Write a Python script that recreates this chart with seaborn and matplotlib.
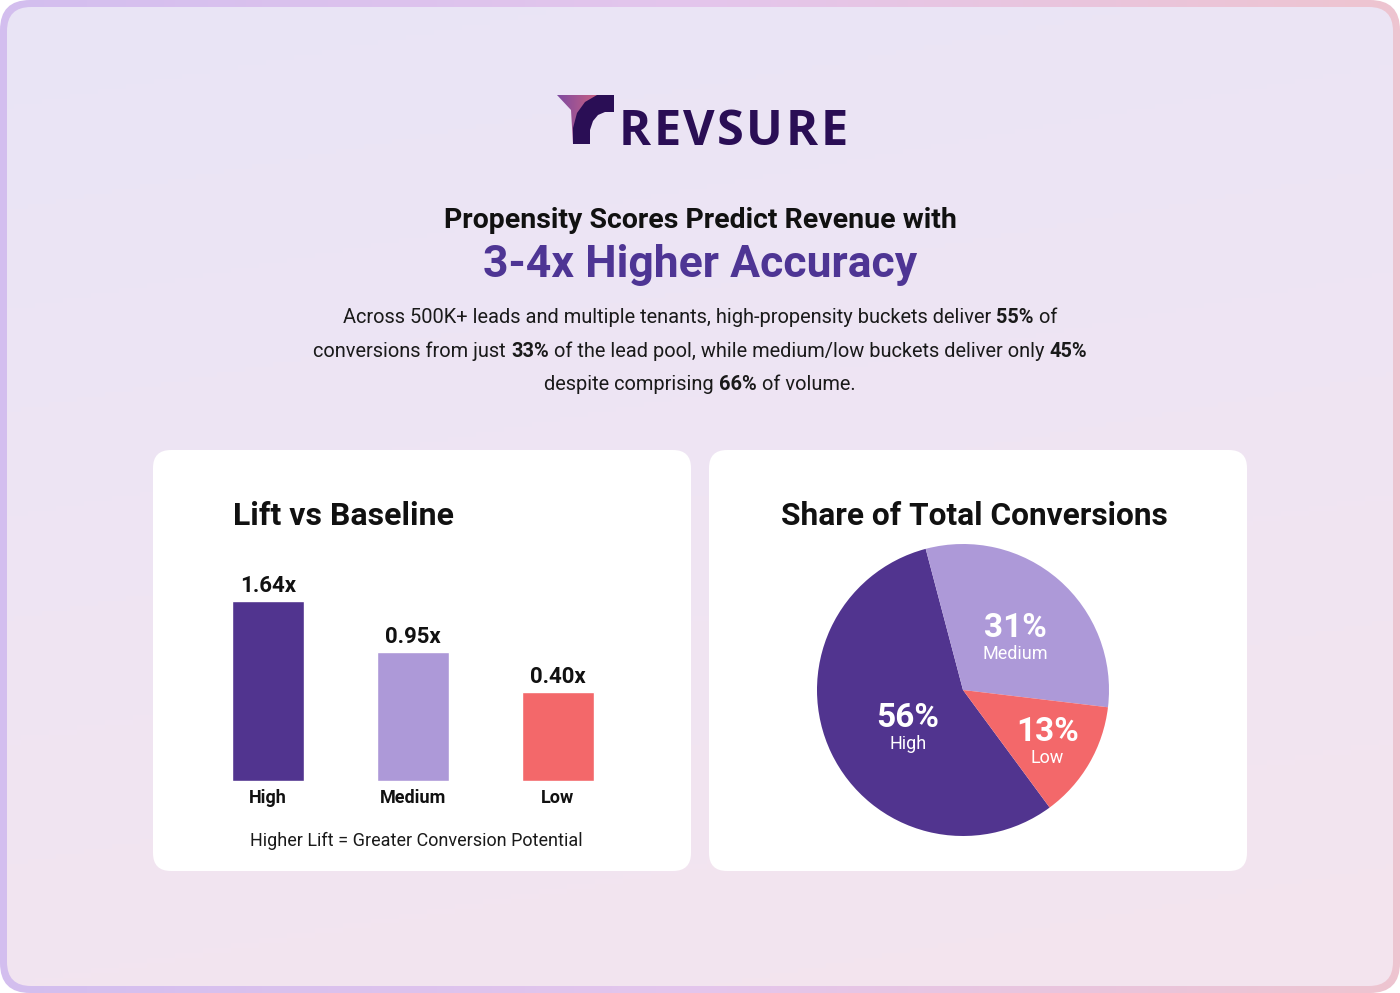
import numpy as np
import pandas as pd
import seaborn as sns
import matplotlib.pyplot as plt
from matplotlib.patches import FancyBboxPatch, Polygon
from matplotlib.colors import LinearSegmentedColormap

# Data
buckets = ["High", "Medium", "Low"]
lift = [1.64, 0.95, 0.40]
conv_share = [56, 31, 13]
bucket_colors = ["#51348F", "#AD99D8", "#F3686A"]

brand = "REVSURE"
headline = "Propensity Scores Predict Revenue with"
headline_accent = "3-4x Higher Accuracy"
body_lines = [
    [("Across 500K+ leads and multiple tenants, high-propensity buckets deliver ", False), ("55%", True), (" of", False)],
    [("conversions from just ", False), ("33%", True), (" of the lead pool, while medium/low buckets deliver only ", False), ("45%", True)],
    [("despite comprising ", False), ("66%", True), (" of volume.", False)],
]
bar_title = "Lift vs Baseline"
bar_note = "Higher Lift = Greater Conversion Potential"
pie_title = "Share of Total Conversions"

W, H = 1400, 993
sns.set_theme(style="white")
plt.rcParams["font.family"] = ["Roboto", "DejaVu Sans"]

fig = plt.figure(figsize=(14, 9.93), dpi=100, facecolor="white")

# background axes in pixel units (y down)
bg = fig.add_axes([0, 0, 1, 1])
bg.axis("off")


def rounded(x0, y0, x1, y1, r, **kw):
    p = FancyBboxPatch((x0, y0), x1 - x0, y1 - y0,
                       boxstyle=f"round,pad=0,rounding_size={r}", **kw)
    bg.add_patch(p)
    return p


# gradient border
border = rounded(0, 0, W, H, 30, facecolor="none", edgecolor="none")
cm_border = LinearSegmentedColormap.from_list("border", ["#D3BEEF", "#E4C6EC", "#EEC4D0"])
im = bg.imshow(np.linspace(0, 1, 256)[None, :], cmap=cm_border,
               extent=(0, W, H, 0), aspect="auto")
im.set_clip_path(border)

# soft inner background
inner = rounded(7, 7, W - 7, H - 7, 24, facecolor="none", edgecolor="none")
cm_bg = LinearSegmentedColormap.from_list("bg", ["#E9E5F6", "#EFE4F3", "#F4E5EE"])
yy, xx = np.mgrid[0:1:200j, 0:1:200j]
im2 = bg.imshow(0.8 * yy + 0.2 * xx, cmap=cm_bg, extent=(0, W, H, 0), aspect="auto")
im2.set_clip_path(inner)

# cards
rounded(153, 450, 691, 871, 18, facecolor="white", edgecolor="none")
rounded(709, 450, 1247, 871, 18, facecolor="white", edgecolor="none")

# logo mark
tri = Polygon([(557, 95), (603, 95), (576, 122), (573, 144), (571, 110)],
              closed=True, facecolor="none", edgecolor="none")
bg.add_patch(tri)
cm_logo = LinearSegmentedColormap.from_list("logo", ["#7E4AA0", "#D2637F"])
im3 = bg.imshow(np.linspace(0, 1, 64)[None, :], cmap=cm_logo,
                extent=(557, 603, 144, 95), aspect="auto")
im3.set_clip_path(tri)
stem = Polygon([(597, 95), (614, 95), (614, 112), (605, 112), (598, 115), (593, 121),
                (590, 130), (590, 144), (573, 144), (573, 128), (577, 113),
                (585, 102)], closed=True, facecolor="#2A0E55", edgecolor="none")
bg.add_patch(stem)
bg.set_xlim(0, W)
bg.set_ylim(H, 0)

renderer = fig.canvas.get_renderer()

# brand word with a little letter spacing
letters = [bg.text(0, 145, ch, ha="left", va="baseline", fontsize=35, weight="bold",
                   color="#2A0E55", family=["Open Sans", "DejaVu Sans"]) for ch in brand]
lw = [t.get_window_extent(renderer).width for t in letters]
track = 2.5
x = 733 - (sum(lw) + track * (len(lw) - 1)) / 2
for t, w in zip(letters, lw):
    t.set_x(x)
    x += w + track

# headline
bg.text(700, 228, headline, ha="center", va="baseline", fontsize=20.5,
        weight="bold", color="#111111")
bg.text(700, 277, headline_accent, ha="center", va="baseline", fontsize=32,
        weight="bold", color="#4E3594")

# body with bold numbers
for line, base in zip(body_lines, [323, 357, 390]):
    parts = [bg.text(0, base, s, fontsize=14.4, va="baseline", color="#1A1A1A",
                     weight="bold" if b else "normal") for s, b in line]
    widths = [t.get_window_extent(renderer).width for t in parts]
    x = W / 2 - sum(widths) / 2
    for t, w in zip(parts, widths):
        t.set_x(x)
        x += w

# card titles and note
bg.text(233, 525, bar_title, ha="left", va="baseline", fontsize=23,
        weight="bold", color="#111111")
bg.text(974, 525, pie_title, ha="center", va="baseline", fontsize=22.8,
        weight="bold", color="#111111")
bg.text(416, 846, bar_note, ha="center", va="baseline", fontsize=13, color="#1A1A1A")

# bar chart
bar_ax = fig.add_axes([195.5 / W, 1 - 781 / H, 435 / W, 221 / H])
df_lift = pd.DataFrame({"bucket": buckets, "lift": lift})
sns.barplot(data=df_lift, x="bucket", y="lift", hue="bucket", palette=bucket_colors,
            width=0.5, saturation=1, legend=False, ax=bar_ax)
# bars keep a visible floor, like the original layout
floor = 0.8
bar_ax.set_yscale("function", functions=(
    lambda y: np.where(y > 0, y + floor, y),
    lambda y: np.where(y > floor, y - floor, np.minimum(y, 0))))
bar_ax.set_ylim(0, 2.19)
bar_ax.set_xlim(-0.5, 2.5)
bar_ax.set_facecolor("none")
bar_ax.set_yticks([])
bar_ax.set_xlabel("")
bar_ax.set_ylabel("")
sns.despine(ax=bar_ax, left=True, bottom=True)
bar_ax.tick_params(axis="x", length=0, pad=6, labelsize=13)
for lbl in bar_ax.get_xticklabels():
    lbl.set_fontweight("bold")
    lbl.set_color("#111111")
for i, v in enumerate(lift):
    bar_ax.annotate(f"{v:.2f}x", xy=(i, v), xytext=(0, 9), textcoords="offset pixels",
                    ha="center", va="baseline", fontsize=16, weight="bold", color="#111111")

# pie chart
pie_ax = fig.add_axes([(963 - 146) / W, 1 - (690 + 146) / H, 292 / W, 292 / H])
wedges, _ = pie_ax.pie(conv_share, colors=bucket_colors, startangle=-53.6,
                       counterclock=False, wedgeprops=dict(linewidth=0))
pie_ax.set_xlim(-1, 1)
pie_ax.set_ylim(-1, 1)
label_radius = [0.47, 0.49, 0.69]
label_turn = [11, -6, -3]
for w, pct, name, r, turn in zip(wedges, conv_share, buckets, label_radius, label_turn):
    ang = np.deg2rad((w.theta1 + w.theta2) / 2 + turn)
    x, y = r * np.cos(ang), r * np.sin(ang)
    pie_ax.annotate(f"{pct}%", xy=(x, y), xytext=(0, 4), textcoords="offset pixels",
                    ha="center", va="baseline", fontsize=24, weight="bold", color="white")
    pie_ax.annotate(name, xy=(x, y), xytext=(0, -18), textcoords="offset pixels",
                    ha="center", va="baseline", fontsize=13, color="white")

fig.savefig("out.png", dpi=100, facecolor="white")
